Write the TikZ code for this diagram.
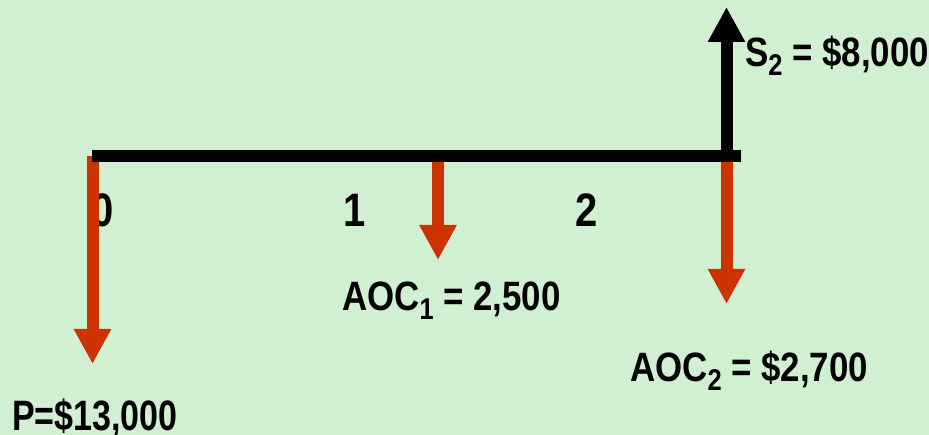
\documentclass[tikz,border=0pt]{standalone}
\usepackage{fontspec}
\newfontfamily\labfont{Liberation Sans}[FakeStretch=0.85]
\newfontfamily\labfontn{Liberation Sans}[FakeStretch=0.80]
\usetikzlibrary{arrows.meta}
\definecolor{bggreen}{RGB}{209,240,210}
\definecolor{cfred}{RGB}{204,51,0}
\newcommand{\lsub}[1]{\raisebox{-9pt}{\fontsize{30}{30}\selectfont #1}}
\tikzset{
  lbl/.style={inner sep=0pt, font=\labfont\bfseries\fontsize{41}{41}\selectfont},
  period/.style={inner sep=0pt, anchor=base, font=\labfont\bfseries\fontsize{47}{47}\selectfont},
  outflow/.style={draw=cfred, line width=12pt, -{Triangle[width=35pt,length=35pt,fill=cfred]}},
  inflow/.style={draw=black, line width=12pt, -{Triangle[width=35pt,length=35pt,fill=black]}},
  timeline/.style={draw=black, line width=12pt, line cap=butt}
}
\begin{document}
\begin{tikzpicture}[x=1pt,y=-1pt]
\fill[bggreen] (0,0) rectangle (929,435);
\useasboundingbox (0,0) rectangle (929,435);
% period labels
\node[period] (p0) at (103,227) {0};
\node[period] (p1) at (355,227) {1};
\node[period] (p2) at (587,227) {2};
% amount labels
\node[lbl, anchor=base west, font=\labfontn\bfseries\fontsize{42.5}{42.5}\selectfont] (lp) at (12,431) {P=\$13,000};
\node[lbl, anchor=base west] (la1) at (342,311) {AOC\lsub{1} = 2,500};
\node[lbl, anchor=base west] (la2) at (630,382) {AOC\lsub{2} = \$2,700};
\node[lbl, anchor=base west] (ls) at (745,67) {S\lsub{2} = \$8,000};
% coordinates
\coordinate (t0) at (92.5,156);
\coordinate (t1) at (438,156);
\coordinate (t3) at (726.5,156);
\coordinate (e0) at (92.5,364);
\coordinate (e1) at (438,260);
\coordinate (e3) at (726.5,304);
\coordinate (s3) at (726.5,7);
\coordinate (tl) at (92,156);
\coordinate (tr) at (741,156);
% outflows
\draw[outflow] (t0) -- (e0);
\draw[outflow] (t1) -- (e1);
\draw[outflow] (t3) -- (e3);
% timeline and inflow
\draw[timeline] (tl) -- (tr);
\draw[inflow] (t3) -- (s3);
\end{tikzpicture}
\end{document}
